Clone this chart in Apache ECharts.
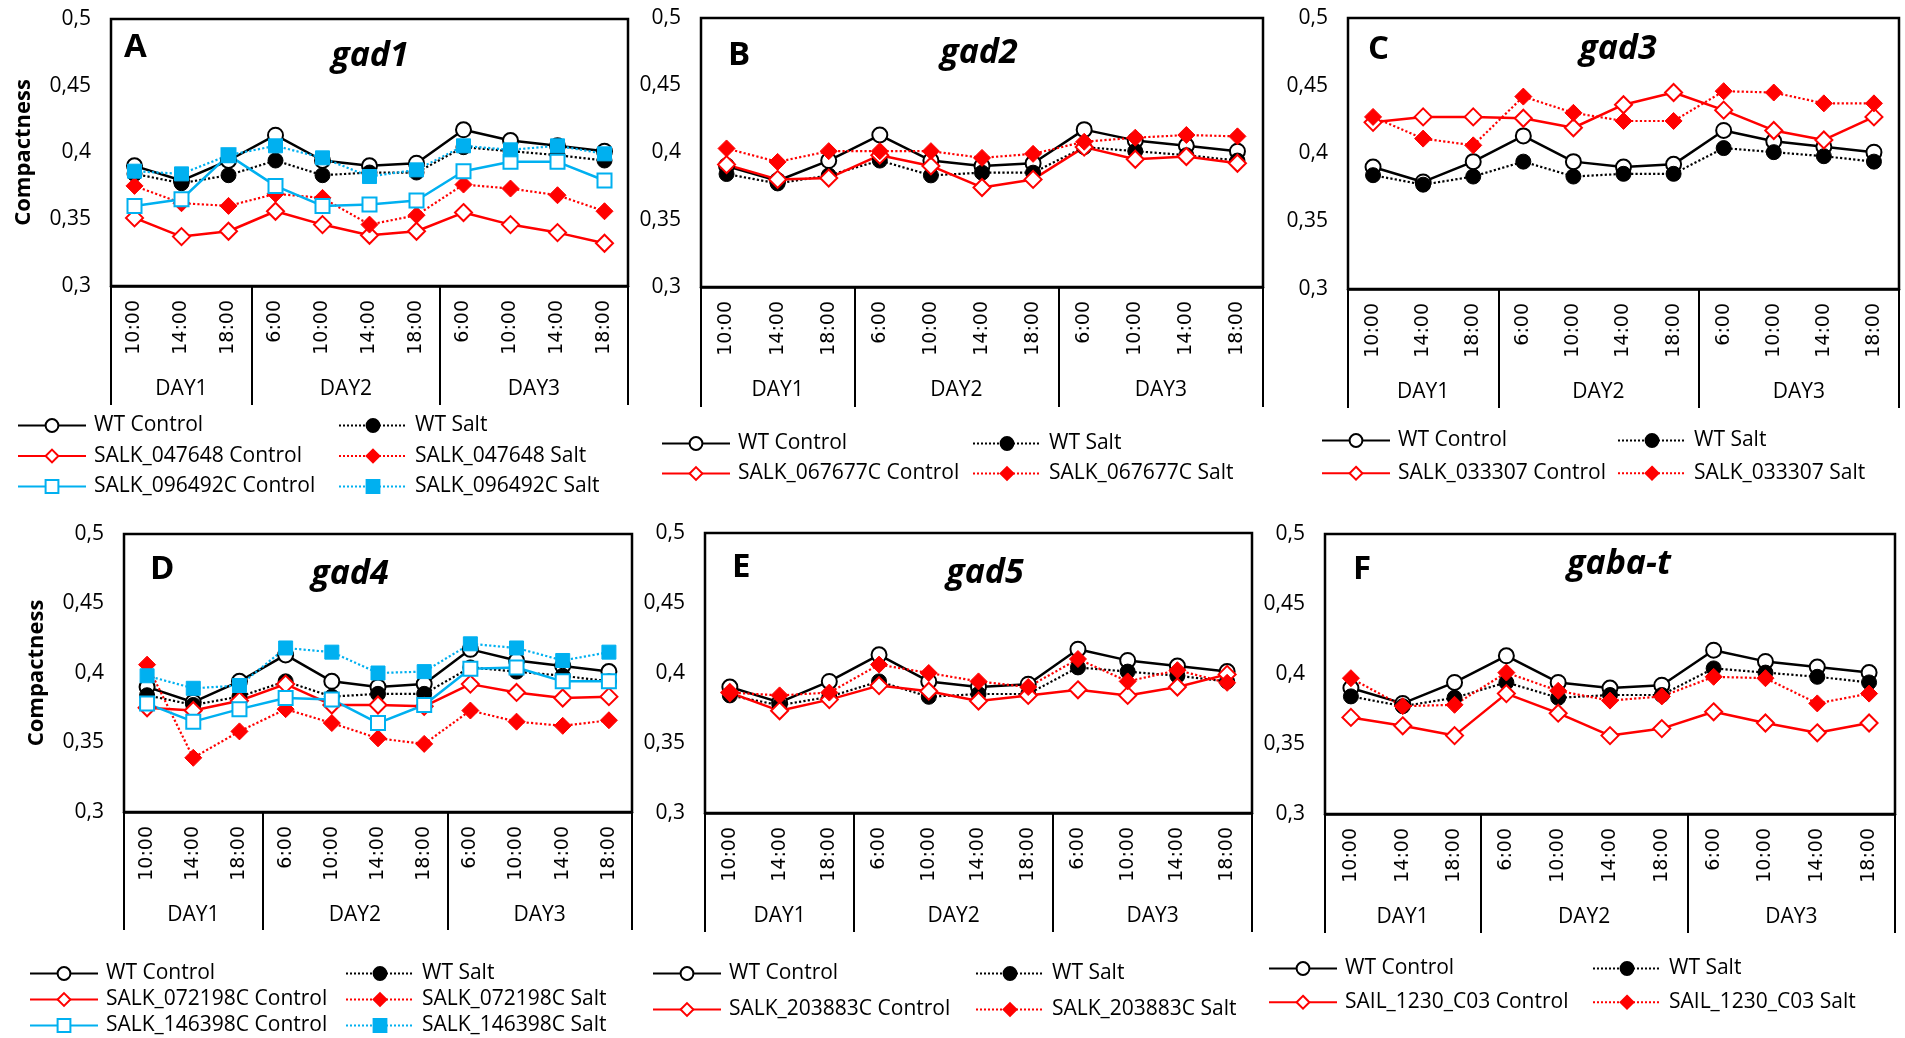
<!DOCTYPE html>
<html>
<head>
<meta charset="utf-8">
<script src="https://cdn.jsdelivr.net/npm/echarts@6/dist/echarts.min.js"></script>
<style>
html,body{margin:0;padding:0;background:#fff;}
#chart{width:1905px;height:1038px;}
</style>
</head>
<body>
<div id="chart"></div>
<script>
// ---------- data ----------
const timeLabels = ['10:00','14:00','18:00','6:00','10:00','14:00','18:00','6:00','10:00','14:00','18:00'];
const dayLabels = ['DAY1','DAY2','DAY3'];
const dayCounts = [3, 4, 4];
const yMin = 0.3, yMax = 0.5, yStep = 0.05;

const wtControl = [0.390,0.379,0.394,0.413,0.394,0.390,0.392,0.417,0.409,0.405,0.401];
const wtSalt    = [0.384,0.377,0.383,0.394,0.383,0.385,0.385,0.404,0.401,0.398,0.394];

const salk047648Control  = [0.351,0.337,0.341,0.356,0.346,0.338,0.341,0.355,0.346,0.340,0.332];
const salk047648Salt     = [0.375,0.362,0.360,0.369,0.366,0.346,0.353,0.376,0.373,0.368,0.356];
const salk096492cControl = [0.360,0.365,0.398,0.375,0.360,0.361,0.364,0.386,0.393,0.393,0.379];
const salk096492cSalt    = [0.386,0.384,0.398,0.405,0.396,0.382,0.387,0.405,0.402,0.405,0.399];

const salk067677cControl = [0.391,0.380,0.381,0.398,0.390,0.374,0.380,0.404,0.395,0.397,0.392];
const salk067677cSalt    = [0.403,0.393,0.401,0.401,0.401,0.396,0.399,0.408,0.411,0.413,0.412];

const salk033307Control  = [0.423,0.427,0.427,0.426,0.419,0.436,0.445,0.432,0.417,0.410,0.427];
const salk033307Salt     = [0.427,0.411,0.406,0.442,0.430,0.424,0.424,0.446,0.445,0.437,0.437];

const salk072198cControl = [0.375,0.373,0.380,0.392,0.377,0.377,0.376,0.392,0.386,0.382,0.383];
const salk072198cSalt    = [0.406,0.339,0.358,0.374,0.364,0.353,0.349,0.373,0.365,0.362,0.366];
const salk146398cControl = [0.378,0.365,0.374,0.382,0.381,0.364,0.377,0.403,0.404,0.394,0.394];
const salk146398cSalt    = [0.398,0.389,0.391,0.418,0.415,0.400,0.401,0.421,0.418,0.409,0.415];

const salk203883cControl = [0.386,0.373,0.381,0.391,0.387,0.380,0.384,0.388,0.384,0.390,0.399];
const salk203883cSalt    = [0.386,0.384,0.386,0.406,0.400,0.394,0.390,0.410,0.394,0.402,0.393];

const sail1230c03Control = [0.369,0.363,0.356,0.386,0.372,0.356,0.361,0.373,0.365,0.358,0.365];
const sail1230c03Salt    = [0.397,0.377,0.378,0.401,0.388,0.381,0.384,0.398,0.397,0.379,0.386];

// ---------- layout ----------
const RED = '#FF0000', BLUE = '#00B0F0', BLACK = '#000000';
const panels = [
  {letter:'A', gene:'gad1', yName:'Compactness', grid:{left:111,top:19,width:517,height:267}, tickLen:119,
   letterPos:[124,47], genePos:[370,65],
   lines:[['SALK_047648','red',salk047648Control,salk047648Salt],['SALK_096492C','blue',salk096492cControl,salk096492cSalt]],
   legL:[17,415], legR:[338,415], gap:9.5},
  {letter:'B', gene:'gad2', grid:{left:701,top:18,width:562,height:269}, tickLen:120,
   letterPos:[728,55], genePos:[979,62],
   lines:[['SALK_067677C','red',salk067677cControl,salk067677cSalt]],
   legL:[661,433], legR:[972,433], gap:9},
  {letter:'C', gene:'gad3', grid:{left:1348,top:18,width:551,height:271}, tickLen:119,
   letterPos:[1368,49], genePos:[1618,58],
   lines:[['SALK_033307','red',salk033307Control,salk033307Salt]],
   legL:[1321,430], legR:[1617,430], gap:11.7},
  {letter:'D', gene:'gad4', yName:'Compactness', grid:{left:124,top:534,width:508,height:278}, tickLen:118,
   letterPos:[150,569], genePos:[350,583],
   lines:[['SALK_072198C','red',salk072198cControl,salk072198cSalt],['SALK_146398C','blue',salk146398cControl,salk146398cSalt]],
   legL:[29,963], legR:[345,963], gap:5},
  {letter:'E', gene:'gad5', grid:{left:705,top:533,width:547,height:280}, tickLen:119,
   letterPos:[732,567], genePos:[985,582],
   lines:[['SALK_203883C','red',salk203883cControl,salk203883cSalt]],
   legL:[652,963], legR:[975,963], gap:15},
  {letter:'F', gene:'gaba-t', grid:{left:1325,top:534,width:570,height:280}, tickLen:119,
   letterPos:[1353,569], genePos:[1619,573],
   lines:[['SAIL_1230_C03','red',sail1230c03Control,sail1230c03Salt]],
   legL:[1268,958], legR:[1592,958], gap:12.7}
];

const boundaries = [0];
dayCounts.forEach(c => boundaries.push(boundaries[boundaries.length-1] + c));
const dayCenters = dayLabels.map((d,i) => (boundaries[i] + boundaries[i+1]) / 2);

const fmtY = v => String(parseFloat(v.toFixed(2))).replace('.', ',');

function mkSeries(name, data, kind, gi) {
  const color = kind.color;
  return {
    name, type:'line', data, xAxisIndex: gi*2, yAxisIndex: gi,
    symbol: kind.symbol, symbolSize: kind.size,
    lineStyle: {color, width: kind.dotted ? 2.2 : 2.5, type: kind.dotted ? 'dotted' : 'solid'},
    itemStyle: kind.filled ? {color, borderColor: color, borderWidth: 1}
                           : {color:'#ffffff', borderColor: color, borderWidth: 2},
    emphasis:{disabled:true}, z: 3
  };
}
const K = {
  wtC:{symbol:'circle', size:15, color:BLACK, filled:false, dotted:false},
  wtS:{symbol:'circle', size:15, color:BLACK, filled:true, dotted:true},
  redC:{symbol:'diamond', size:17, color:RED, filled:false, dotted:false},
  redS:{symbol:'diamond', size:17, color:RED, filled:true, dotted:true},
  blueC:{symbol:'rect', size:14, color:BLUE, filled:false, dotted:false},
  blueS:{symbol:'rect', size:14, color:BLUE, filled:true, dotted:true}
};

const grids = [], xAxes = [], yAxes = [], series = [], legends = [], titles = [];
panels.forEach((p, gi) => {
  grids.push(Object.assign({show:true, borderColor:'#000', borderWidth:2.5, containLabel:false}, p.grid));
  xAxes.push({
    type:'category', gridIndex:gi, data: timeLabels, boundaryGap:true, position:'bottom',
    axisLine:{show:true, onZero:false, lineStyle:{color:'#000', width:2.5}},
    axisTick:{show:false}, splitLine:{show:false},
    axisLabel:{rotate:90, interval:0, margin:14, fontFamily:'DejaVu Sans', fontSize:19, color:'#000'}
  });
  xAxes.push({
    type:'value', gridIndex:gi, min:boundaries[0], max:boundaries[boundaries.length-1], position:'bottom',
    axisLine:{show:false, onZero:false}, splitLine:{show:false},
    axisTick:{show:true, customValues: boundaries, length: p.tickLen, lineStyle:{color:'#000', width:2}},
    axisLabel:{customValues: dayCenters, margin:93, fontFamily:'Open Sans', fontSize:21, color:'#000',
               formatter: v => dayLabels[dayCenters.indexOf(v)] || ''}
  });
  yAxes.push({
    type:'value', gridIndex:gi, min:yMin, max:yMax, interval:yStep, position:'left',
    name: p.yName || '', nameLocation:'middle', nameGap:76,
    nameTextStyle:{fontFamily:'Open Sans', fontWeight:'bold', fontSize:22, color:'#000'},
    axisLine:{show:false, onZero:false}, axisTick:{show:false}, splitLine:{show:false},
    axisLabel:{formatter: fmtY, margin:20, fontFamily:'Open Sans', fontSize:21, color:'#000'}
  });
  const left = ['WT Control'], right = ['WT Salt'];
  series.push(mkSeries('WT Control', wtControl, K.wtC, gi));
  series.push(mkSeries('WT Salt', wtSalt, K.wtS, gi));
  p.lines.forEach(([line, col, ctrl, salt]) => {
    const c = line + ' Control', s = line + ' Salt';
    left.push(c); right.push(s);
    series.push(mkSeries(c, ctrl, col === 'red' ? K.redC : K.blueC, gi));
    series.push(mkSeries(s, salt, col === 'red' ? K.redS : K.blueS, gi));
  });
  const legBase = {orient:'vertical', itemWidth:68, itemHeight:16, itemGap:p.gap, padding:0, selectedMode:false,
    textStyle:{fontFamily:'Open Sans', fontSize:21, color:'#000', lineHeight:20, padding:[0,0,0,3]}};
  legends.push(Object.assign({}, legBase, {left:p.legL[0], top:p.legL[1], data:left}));
  legends.push(Object.assign({}, legBase, {left:p.legR[0], top:p.legR[1], data:right}));
  titles.push({text:p.letter, left:p.letterPos[0], top:p.letterPos[1]-16, padding:0,
    textStyle:{fontFamily:'Open Sans', fontWeight:'bold', fontSize:33, color:'#000', lineHeight:33}});
  titles.push({text:p.gene, left:p.genePos[0], textAlign:'center', top:p.genePos[1]-26, padding:0,
    textStyle:{fontFamily:'Open Sans', fontWeight:'bold', fontStyle:'italic', fontSize:34, color:'#000', lineHeight:34}});
});

const chart = echarts.init(document.getElementById('chart'), null, {renderer:'canvas'});
chart.setOption({
  animation:false, backgroundColor:'#ffffff',
  title: titles, grid: grids, xAxis: xAxes, yAxis: yAxes, legend: legends, series
});
</script>
</body>
</html>
